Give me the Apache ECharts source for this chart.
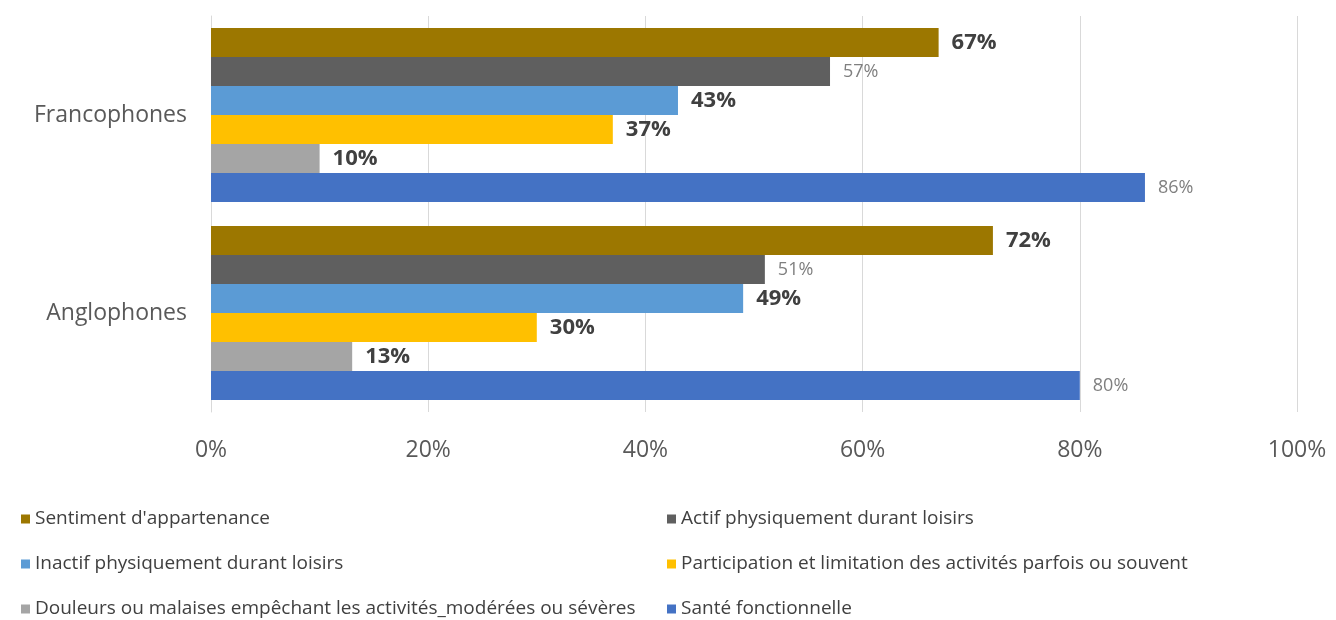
<!DOCTYPE html>
<html><head><meta charset="utf-8">
<script src="https://cdn.jsdelivr.net/npm/echarts@6/dist/echarts.min.js"></script>
<style>html,body{margin:0;padding:0;background:#fff}#c{width:1336px;height:620px}</style>
</head><body><div id="c"></div>
<script>
const categories = ['Francophones', 'Anglophones'];
const seriesNames = [
  "Sentiment d'appartenance",
  'Actif physiquement durant loisirs',
  'Inactif physiquement durant loisirs',
  'Participation et limitation des activités parfois ou souvent',
  'Douleurs ou malaises empêchant les activités_modérées ou sévères',
  'Santé fonctionnelle'
];
const sentiment = [67, 72];
const actif = [57, 51];
const inactif = [43, 49];
const participation = [37, 30];
const douleurs = [10, 13];
const sante = [86, 80];
const xTicks = [0, 20, 40, 60, 80, 100];

const values = [sentiment, actif, inactif, participation, douleurs, sante];
const colors = ['#9C7700', '#5F5F5F', '#5B9BD5', '#FFC000', '#A5A5A5', '#4472C4'];
const boldSeries = [true, false, true, true, true, false];
const FONT = '"Open Sans", Lato, sans-serif';

const chart = echarts.init(document.getElementById('c'));
const series = values.map((v, i) => ({
  name: seriesNames[i],
  type: 'bar',
  data: v,
  barGap: '0%',
  barCategoryGap: '12%',
  itemStyle: { color: colors[i] },
  label: boldSeries[i]
    ? { show: true, position: 'right', distance: 13, formatter: '{c}%', fontFamily: FONT, fontSize: 22, fontWeight: 'bold', color: '#404040' }
    : { show: true, position: 'right', distance: 13, formatter: '{c}%', fontFamily: FONT, fontSize: 18, color: '#7F7F7F' }
}));

const legendBase = {
  orient: 'vertical', itemWidth: 9, itemHeight: 9, itemGap: 23, icon: 'rect', height: 130,
  textStyle: { fontFamily: FONT, fontSize: 19, lineHeight: 22, color: '#404040' }, top: 503
};
chart.setOption({
  animation: false,
  grid: { left: 211, right: 39, top: 16, bottom: 208 },
  xAxis: {
    type: 'value', min: xTicks[0], max: xTicks[xTicks.length - 1], interval: 20,
    axisLabel: { formatter: '{value}%', fontFamily: FONT, fontSize: 23, color: '#595959', margin: 27 },
    splitLine: { lineStyle: { color: '#D9D9D9' } },
    axisLine: { show: false }, axisTick: { show: false }
  },
  yAxis: {
    type: 'category', data: categories, inverse: true,
    axisLabel: { fontFamily: FONT, fontSize: 23, color: '#595959', margin: 24 },
    axisLine: { show: true, lineStyle: { color: '#D9D9D9' } }, axisTick: { show: false }
  },
  legend: [
    Object.assign({ left: 16, data: [seriesNames[0], seriesNames[2], seriesNames[4]] }, legendBase),
    Object.assign({ left: 662, data: [seriesNames[1], seriesNames[3], seriesNames[5]] }, legendBase)
  ],
  series: series
});
</script></body></html>
